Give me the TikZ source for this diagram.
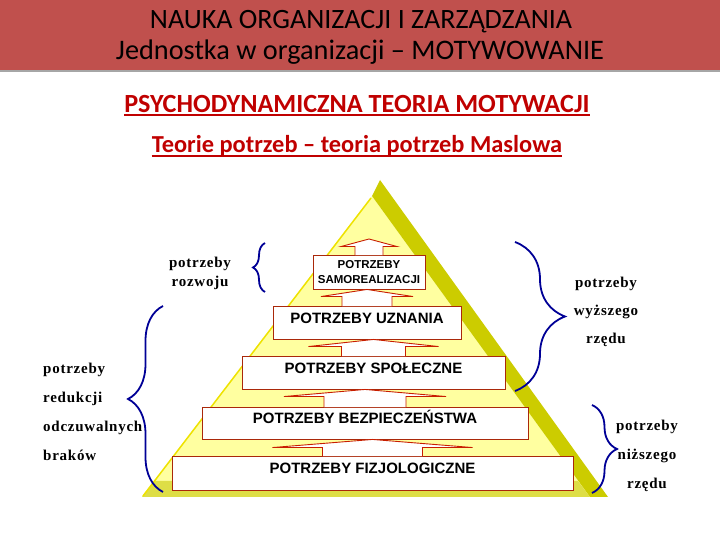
\documentclass[tikz,border=0pt]{standalone}
\usepackage{fontspec}
\setmainfont{Liberation Serif}
\newfontfamily\titlefont{Carlito}
\newfontfamily\boxfont{Liberation Sans}
\newfontfamily\sidefont[LetterSpace=5]{Liberation Serif}
\usetikzlibrary{calc, decorations.pathreplacing}

\definecolor{bandred}{RGB}{192,80,77}
\definecolor{headred}{RGB}{192,0,0}
\definecolor{pyrolive}{RGB}{204,204,0}
\definecolor{pyrlight}{RGB}{255,255,160}
\definecolor{pyrbase}{RGB}{222,222,70}
\definecolor{boxred}{RGB}{170,40,10}
\definecolor{arrowred}{RGB}{200,30,0}
\definecolor{braceblue}{RGB}{0,0,150}

\tikzstyle{needbox} = [rectangle, draw=boxred, fill=white, line width=0.9pt, inner sep=0pt, text height=16.4pt, text depth=15pt, font=\boxfont\bfseries\fontsize{15}{18}\selectfont]
\tikzstyle{topbox} = [rectangle, draw=boxred, fill=white, line width=0.9pt, inner sep=0pt, align=center, font=\boxfont\bfseries\fontsize{11.5}{15}\selectfont]
\tikzstyle{uparrow} = [draw=arrowred, fill=white, line width=0.9pt]
\tikzstyle{curly} = [draw=braceblue, line width=1.8pt, decorate]
\tikzstyle{sidetext} = [inner sep=0pt]

\begin{document}
\begin{tikzpicture}[x=1pt, y=1pt]
    \useasboundingbox (0,0) rectangle (720,540);

    % header band
    \fill [bandred] (0,469) rectangle (720,540);
    \fill [black!35] (0,468) rectangle (720,469.5);
    \node (title1) [anchor=base, font=\titlefont\fontsize{28}{32}\selectfont] at (361,511) {NAUKA ORGANIZACJI I ZARZĄDZANIA};
    \node (title2) [anchor=base, font=\titlefont\fontsize{28.3}{32}\selectfont] at (360,480) {Jednostka w organizacji – MOTYWOWANIE};

    \node (theory) [anchor=base, inner sep=0pt, text=headred, font=\titlefont\bfseries\fontsize{26.2}{30}\selectfont] at (357,427) {PSYCHODYNAMICZNA TEORIA MOTYWACJI};
    \draw [headred, line width=2pt] ([yshift=-2.5pt]theory.base west) -- ([yshift=-2.5pt]theory.base east);
    \node (maslow) [anchor=base, inner sep=0pt, text=headred, font=\titlefont\bfseries\fontsize{24.4}{28}\selectfont] at (357,387) {Teorie potrzeb – teoria potrzeb Maslowa};
    \draw [headred, line width=2pt] ([yshift=-3.5pt]maslow.base west) -- ([yshift=-3.5pt]maslow.base east);

    % pyramid
    \fill [pyrlight] (372,344) -- (590,43) -- (142,43) -- cycle;
    \fill [pyrolive] (380,360) -- (608,43) -- (590,43) -- (372,344) -- cycle;
    \fill [pyrbase] (142,43) -- (154,59) -- (578,59) -- (590,43) -- cycle;
    \draw [yellow!85!olive, line width=1.5pt] (143,44) -- (371,342);

    % levels
    \coordinate (peak) at (369,301);
    \node (sam) [topbox, minimum width=112pt, minimum height=34pt] at (369,268) {POTRZEBY\\SAMOREALIZACJI};
    \node (uzn) [needbox, minimum width=188pt, minimum height=33pt] at (367,217.5) {POTRZEBY UZNANIA};
    \node (spo) [needbox, minimum width=263pt, minimum height=33pt] at (373.5,167.5) {POTRZEBY SPOŁECZNE};
    \node (bez) [needbox, minimum width=326pt, minimum height=32pt] at (365,117) {POTRZEBY BEZPIECZEŃSTWA};
    \node (fiz) [needbox, minimum width=401pt, minimum height=34pt] at (372.5,67) {POTRZEBY FIZJOLOGICZNE};

    \draw [uparrow] ($(sam.north)+(-14,-0.6)$) |- ($(sam.north)+(-28,8)$) -- (peak) -- ($(sam.north)+(28,8)$) -| ($(sam.north)+(14,-0.6)$);
    \draw [uparrow] ($(uzn.north)+(-25,-0.6)$) |- ($(uzn.north)+(-46,9)$) -- (uzn.north |- sam.south) -- ($(uzn.north)+(46,9)$) -| ($(uzn.north)+(25,-0.6)$);
    \draw [uparrow] ($(spo.north)+(-32,-0.6)$) |- ($(spo.north)+(-65,9)$) -- (spo.north |- uzn.south) -- ($(spo.north)+(65,9)$) -| ($(spo.north)+(32,-0.6)$);
    \draw [uparrow] ($(bez.north)+(-41,-0.6)$) |- ($(bez.north)+(-81,10)$) -- (bez.north |- spo.south) -- ($(bez.north)+(81,10)$) -| ($(bez.north)+(41,-0.6)$);
    \draw [uparrow] ($(fiz.north)+(-50,-0.6)$) |- ($(fiz.north)+(-100,8)$) -- (fiz.north |- bez.south) -- ($(fiz.north)+(100,8)$) -| ($(fiz.north)+(50,-0.6)$);

    % braces and their labels
    \draw [curly, decoration={brace, amplitude=12pt}] (265,248) -- (265,297);
    \draw [curly, decoration={brace, amplitude=35pt}] (163,48) -- (163,234);
    \draw [curly, decoration={brace, amplitude=50pt}] (515,298) -- (515,149);
    \draw [curly, decoration={brace, amplitude=25pt}] (592,135) -- (592,47);

    \node (rozwoj) [sidetext, align=center, font=\sidefont\bfseries\fontsize{15}{19}\selectfont] at (200,266.5) {potrzeby\\rozwoju};
    \node (braki) [sidetext, align=left, anchor=west, font=\sidefont\bfseries\fontsize{15}{29}\selectfont] at (43,128) {potrzeby\\redukcji\\odczuwalnych\\braków};
    \node (wyzsze) [sidetext, align=center, font=\sidefont\bfseries\fontsize{15}{28}\selectfont] at (606,228) {potrzeby\\wyższego\\rzędu};
    \node (nizsze) [sidetext, align=center, font=\sidefont\bfseries\fontsize{15}{29}\selectfont] at (647,84) {potrzeby\\niższego\\rzędu};
\end{tikzpicture}
\end{document}
